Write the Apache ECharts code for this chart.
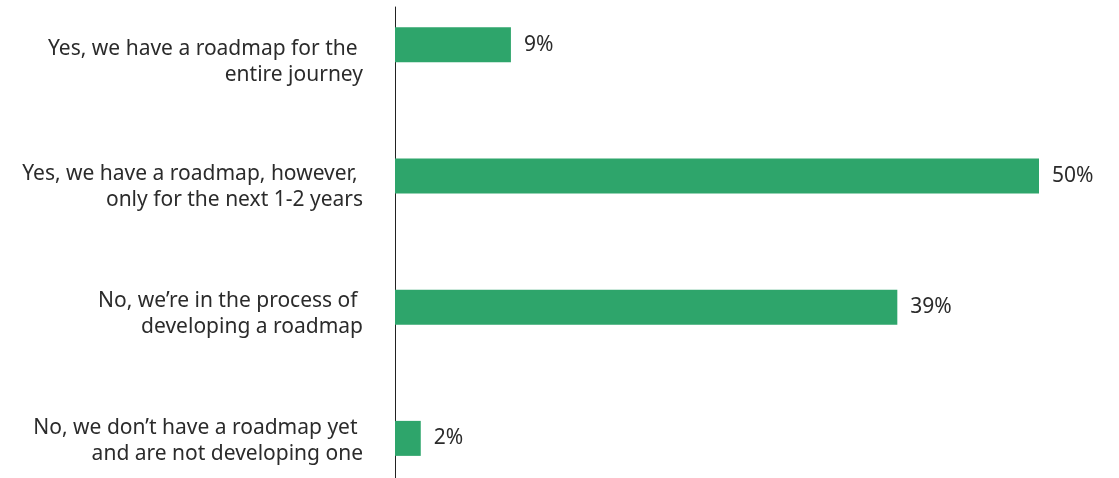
<!DOCTYPE html>
<html>
<head>
<meta charset="utf-8">
<script src="https://cdn.jsdelivr.net/npm/echarts@6/dist/echarts.min.js"></script>
<style>html,body{margin:0;padding:0;background:#fff}#c{width:1119px;height:478px}</style>
</head>
<body>
<div id="c"></div>
<script>
const categories = [
  "Yes, we have a roadmap for the \nentire journey",
  "Yes, we have a roadmap, however, \nonly for the next 1-2 years",
  "No, we\u2019re in the process of \ndeveloping a roadmap",
  "No, we don\u2019t have a roadmap yet \nand are not developing one"
];
const values = [9, 50, 39, 2];

const chart = echarts.init(document.getElementById('c'));
const FONT = "Noto Sans";
const TXT = '#2b2b2b';
const FS = 21;
function rs(p) { return {fontFamily: FONT, fontSize: FS, color: TXT, lineHeight: 26, padding: [p, 0, 0, 0], align: 'right'}; }
chart.setOption({
  animation: false,
  grid: [
    {left: 395, right: 80, top: -21, bottom: -26, containLabel: false, outerBoundsMode: 'none'},
    {left: 395, right: 80, top: 7, bottom: 0, containLabel: false, outerBoundsMode: 'none'}
  ],
  xAxis: [
    {type: 'value', gridIndex: 0, min: 0, max: 50, show: false},
    {type: 'value', gridIndex: 1, min: 0, max: 50, show: false}
  ],
  yAxis: [
    {
      type: 'category', gridIndex: 0, inverse: true, data: categories,
      axisLine: {show: false}, axisTick: {show: false},
      axisLabel: {
        margin: 32, align: 'right',
        formatter: function (v, i) { return '{r' + i + '|' + v.split('\n').join('}\n{r' + i + '|') + '}'; },
        rich: {r0: rs(34), r1: rs(23), r2: rs(14), r3: rs(5)}
      }
    },
    {
      type: 'value', gridIndex: 1, min: 0, max: 1,
      axisLine: {show: true, lineStyle: {color: '#222', width: 1}},
      axisTick: {show: false}, axisLabel: {show: false}, splitLine: {show: false}
    }
  ],
  series: [{
    type: 'bar', xAxisIndex: 0, yAxisIndex: 0, data: values, barWidth: 35,
    itemStyle: {color: '#2ea56b'},
    label: {
      show: true, position: 'right', distance: 13,
      formatter: '{c}%', fontFamily: FONT, fontSize: FS, color: TXT
    }
  }]
});
</script>
</body>
</html>
